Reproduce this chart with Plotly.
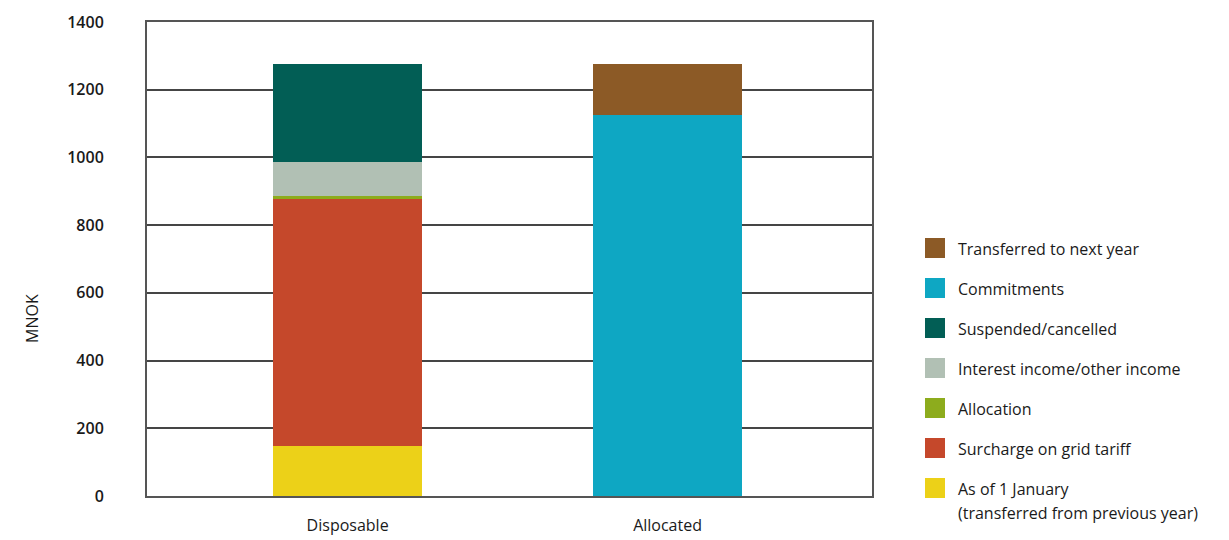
import plotly.graph_objects as go

# Categories on the x axis
categories = ["Disposable", "Allocated"]

# Stacked series, bottom to top; values in MNOK for [Disposable, Allocated]
series_names = [
    "As of 1 January<br>(transferred from previous year)",
    "Surcharge on grid tariff",
    "Allocation",
    "Interest income/other income",
    "Suspended/cancelled",
    "Commitments",
    "Transferred to next year",
]
as_of_1_january = [148, 0]
surcharge_on_grid_tariff = [729, 0]
allocation = [10, 0]
interest_other_income = [100, 0]
suspended_cancelled = [289, 0]
commitments = [0, 1125]
transferred_to_next_year = [0, 151]

series_values = [
    as_of_1_january,
    surcharge_on_grid_tariff,
    allocation,
    interest_other_income,
    suspended_cancelled,
    commitments,
    transferred_to_next_year,
]
series_colors = ["#ecd118", "#c5482b", "#8dac1d", "#b1c0b4", "#025e55", "#0ea7c3", "#8c5a26"]

y_ticks = [0, 200, 400, 600, 800, 1000, 1200, 1400]

FONT = "Open Sans"
TEXT = "#1a1a1a"
LINE = "#555555"

fig = go.Figure()
for name, vals, col in zip(series_names, series_values, series_colors):
    fig.add_trace(go.Bar(
        x=categories, y=vals, name=name,
        marker=dict(color=col, line=dict(width=0)),
        showlegend=False,
    ))

# Legend drawn as swatches + labels to the right of the plot, top entry = last series
W_PLOT, H_PLOT = 725.0, 474.0
sw_x0 = (925 - 147) / W_PLOT
sw_x1 = (945 - 147) / W_PLOT
txt_x = (956 - 147) / W_PLOT
shapes = []
annotations = []
for i, (name, col) in enumerate(zip(series_names, series_colors)):
    cy = 488 - 40 * i  # pixel centre of the swatch
    shapes.append(dict(
        type="rect", xref="paper", yref="paper",
        x0=sw_x0, x1=sw_x1,
        y0=(496 - (cy + 10)) / H_PLOT, y1=(496 - (cy - 10)) / H_PLOT,
        fillcolor=col, line=dict(width=0),
    ))
    for j, line_txt in enumerate(name.split("<br>")):
        annotations.append(dict(
            xref="paper", yref="paper", x=txt_x, y=(496 - (cy + 1 + 24 * j)) / H_PLOT,
            xanchor="left", yanchor="middle", text=line_txt, showarrow=False,
            font=dict(family=FONT, size=16, color=TEXT),
        ))

# y-axis title
annotations.append(dict(
    xref="paper", yref="paper", x=(32 - 147) / W_PLOT, y=(496 - 318) / H_PLOT,
    xanchor="center", yanchor="middle", text="MNOK", textangle=-90, showarrow=False,
    font=dict(family=FONT, size=16, color=TEXT),
))

fig.update_layout(
    barmode="stack",
    bargap=0.534,
    width=1229, height=540,
    margin=dict(l=147, r=357, t=22, b=44),
    paper_bgcolor="white", plot_bgcolor="white",
    font=dict(family=FONT, size=16, color=TEXT),
    showlegend=False,
    shapes=shapes,
    annotations=annotations,
    xaxis=dict(
        range=[-0.627, 1.639],
        automargin=False,
        showline=True, linecolor=LINE, linewidth=2, mirror=True,
        showgrid=False, ticks="",
        tickfont=dict(family=FONT, size=16, color=TEXT),
        ticklabelstandoff=14,
    ),
    yaxis=dict(
        range=[0, 1400],
        automargin=False,
        tickvals=y_ticks,
        ticktext=[str(v) for v in y_ticks],
        showline=True, linecolor=LINE, linewidth=2, mirror=True,
        showgrid=True, gridcolor="#454545", gridwidth=1.6,
        zeroline=False,
        ticks="",
        tickfont=dict(family=FONT, size=16, color=TEXT, weight=600),
        ticklabelstandoff=38,
    ),
)

fig.write_html("out.html")
